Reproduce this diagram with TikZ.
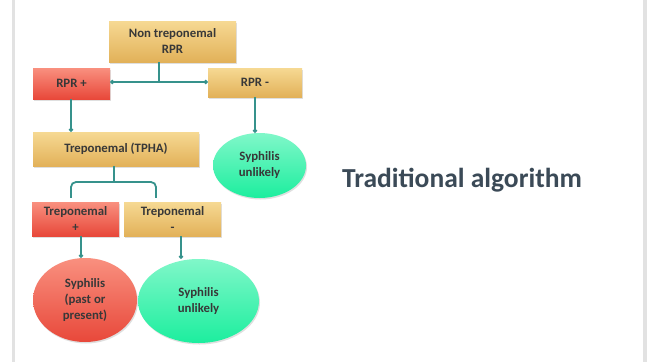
\documentclass[tikz,border=0pt]{standalone}
\usepackage{fontspec}
\setmainfont{Carlito}
\usetikzlibrary{arrows.meta,shadows,shapes.geometric}
\definecolor{gold1}{HTML}{F6D993}
\definecolor{gold2}{HTML}{E2B159}
\definecolor{red1}{HTML}{F9907F}
\definecolor{red2}{HTML}{E8483A}
\definecolor{grn1}{HTML}{80F7C9}
\definecolor{grn2}{HTML}{1CEE9E}
\definecolor{link}{HTML}{36928C}
\definecolor{txt}{HTML}{383838}
\definecolor{ttl}{HTML}{3B4A57}
\definecolor{edge}{HTML}{E2E2E2}
\tikzset{
  base/.style={inner sep=0pt, align=center, text=txt,
    font=\fontsize{12.8}{16}\selectfont\bfseries,
    drop shadow={opacity=0.25, shadow xshift=1pt, shadow yshift=-1.5pt}},
  goldbox/.style={base, rectangle, top color=gold1, bottom color=gold2},
  redbox/.style={base, rectangle, top color=red1, bottom color=red2},
  grnell/.style={base, ellipse, top color=grn1, bottom color=grn2},
  redell/.style={base, ellipse, top color=red1, bottom color=red2},
  conn/.style={draw=link, line width=1.8pt},
  arr/.style={conn, -{Circle[length=4pt]}},
}
\begin{document}
\begin{tikzpicture}[x=1pt,y=-1pt]
\useasboundingbox (0,0) rectangle (648,362);
\fill[white] (0,0) rectangle (648,362);
\fill[edge] (12,0) rectangle (15,362);
\fill[edge] (643,0) rectangle (647,362);

\node[goldbox, minimum width=127pt, minimum height=41pt] (top) at (172.5,41.5) {Non treponemal\\RPR};
\node[redbox, minimum width=77pt, minimum height=31pt] (rprp) at (71.5,83.5) {RPR +};
\node[goldbox, minimum width=94pt, minimum height=29pt] (rprm) at (255,82.5) {RPR -};
\node[goldbox, minimum width=166pt, minimum height=34pt] (tpha) at (116,149) {Treponemal (TPHA)};
\node[grnell, minimum width=93pt, minimum height=65pt] (e1) at (259.5,165.5) {Syphilis\\unlikely};
\node[redbox, minimum width=87pt, minimum height=34pt] (tp) at (75.5,219) {Treponemal\\+};
\node[goldbox, minimum width=97pt, minimum height=34pt] (tm) at (172.5,219) {Treponemal\\-};
\node[redell, minimum width=104pt, minimum height=84pt] (e2) at (85,300) {Syphilis\\(past or\\present)};
\node[grnell, minimum width=121pt, minimum height=84pt] (e3) at (198.5,301) {Syphilis\\unlikely};

\node[font=\fontsize{27.5}{30}\selectfont\bfseries, text=ttl] (title) at (462,180) {Traditional algorithm};

\coordinate (j1) at (159,82);
\coordinate (x71) at (71,0);
\coordinate (x81) at (81,0);
\coordinate (x156) at (156,0);
\coordinate (x181) at (181,0);
\coordinate (j2) at (114,182);

\draw[conn] (top.south -| j1) -- (j1);
\draw[conn, {Circle[length=4pt]}-{Circle[length=4pt]}] (rprp.east |- j1) -- (rprm.west |- j1);
\draw[arr] (rprp.south -| x71) -- (tpha.north -| x71);
\draw[arr] (rprm.south) -- (e1.north -| rprm.south);

\draw[conn] (tpha.south -| j2) -- (j2);
\coordinate (b1) at ([yshift=4pt]tp.north -| x71);
\coordinate (b2) at ([yshift=4pt]tm.north -| x156);
\draw[conn, rounded corners=5pt] (b1) |- (j2) -| (b2);
\draw[arr] (tp.south -| x81) -- (e2.north -| x81);
\draw[arr] (tm.south -| x181) -- (e3.north -| x181);
\end{tikzpicture}
\end{document}
